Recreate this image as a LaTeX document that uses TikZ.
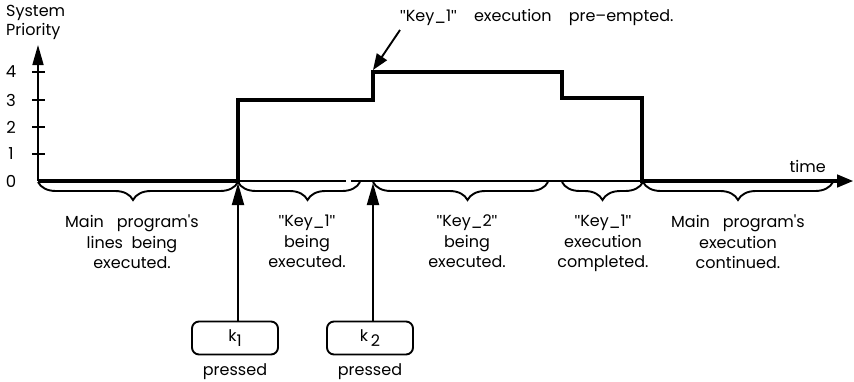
\documentclass[tikz,border=0pt]{standalone}
\usepackage{fontspec}
\setmainfont{Poppins}
\newfontfamily\qfont{Liberation Sans}
\newcommand{\dq}{{\qfont"}}
\usetikzlibrary{arrows.meta,decorations.pathreplacing}
\begin{document}
\begin{tikzpicture}[x=1pt,y=-1pt, font=\fontsize{16}{18}\selectfont,
  trace/.style={line width=3.3pt, line join=miter},
  axisline/.style={line width=1.7pt},
  brc/.style={decorate, decoration={brace, mirror, amplitude=18pt, aspect=#1}, line width=1.9pt},
  brc/.default=0.5,
  lbl/.style={align=center, inner sep=0pt, font=\fontsize{16}{20.5}\selectfont},
  keybox/.style={draw, line width=1.9pt, rounded corners=7pt, minimum width=86pt, minimum height=33pt, inner sep=0pt},
  bigarrow/.style={-{Triangle[length=22pt,width=12pt]}, line width=1.9pt},
  smallarrow/.style={-{Triangle[length=16pt,width=12pt]}, line width=1.9pt},
  ticklbl/.style={inner sep=0pt, font=\fontsize{16.5}{18}\selectfont}]
\useasboundingbox (0,0) rectangle (854,381);
% named coordinates
\coordinate (origin) at (38,181);
\coordinate (ytop) at (38,45);
\coordinate (xgapL) at (346,181);
\coordinate (xgapR) at (351,181);
\coordinate (xend) at (853,181);
\coordinate (p1) at (238,183);
\coordinate (p2) at (373,183);
\coordinate (preFrom) at (400,30);
\coordinate (preTip) at (373,70);
% axes
\draw[axisline, -{Triangle[length=20pt,width=11pt]}] (origin) -- (ytop);
\draw[axisline] (origin) -- (xgapL);
\draw[axisline, -{Triangle[length=16pt,width=13pt]}] (xgapR) -- (xend);
% ticks and tick labels
\foreach \v/\yy in {4/72,3/100,2/127,1/154} {
  \draw[line width=1.7pt] (32,\yy) -- (45,\yy);
  \node[ticklbl] (t\v) at (11,\yy) {\v};
}
\node[ticklbl] (t0) at (11,181) {0};
\node[align=left, anchor=north west, inner sep=0pt, font=\fontsize{16}{19}\selectfont] (ylabel) at (6,5) {System\\Priority};
\node[inner sep=0pt, anchor=base east] (timelbl) at (826,172) {time};
% priority trace
\draw[trace] (origin) -- (238,181) -- (238,100) -- (373,100) -- (373,72) -- (562,72) -- (562,98) -- (642,98) -- (642,181) -- (838,181);
% braces
\draw[brc=0.475] (38,182) -- (238,182);
\draw[brc=0.57] (238,182) -- (360,182);
\draw[brc=0.54] (373,182) -- (548,182);
\draw[brc=0.5] (562,182) -- (643,182);
\draw[brc=0.5] (643,182) -- (833,182);
% brace labels
\node[lbl, anchor=north] (l1) at (132,215) {Main\ \ \ program\textquotesingle s\\lines\ \ being\\executed.};
\node[lbl, anchor=north] (l2) at (307,215) {\dq Key\_1\dq\\being\\executed.};
\node[lbl, anchor=north] (l3) at (467,215) {\dq Key\_2\dq\\being\\executed.};
\node[lbl, anchor=north] (l4) at (603,215) {\dq Key\_1\dq\\execution\\completed.};
\node[lbl, anchor=north] (l5) at (738,215) {Main\ \ \ program\textquotesingle s\\execution\\continued.};
% top annotation
\node[inner sep=0pt, anchor=west] (pre) at (400,17) {\dq Key\_1\dq\ \ \ \ execution\ \ \ \ pre--empted.};
\draw[smallarrow] (preFrom) -- (preTip);
% keys
\node[keybox] (k1) at (235,338) {k\raisebox{-5pt}{1}};
\node[keybox] (k2) at (370,338) {k\,\raisebox{-5pt}{2}};
\node[inner sep=0pt] (pr1) at (235,372) {pressed};
\node[inner sep=0pt] (pr2) at (370,372) {pressed};
\draw[bigarrow] (k1.north -| p1) -- (p1);
\draw[bigarrow] (k2.north -| p2) -- (p2);
\end{tikzpicture}
\end{document}
